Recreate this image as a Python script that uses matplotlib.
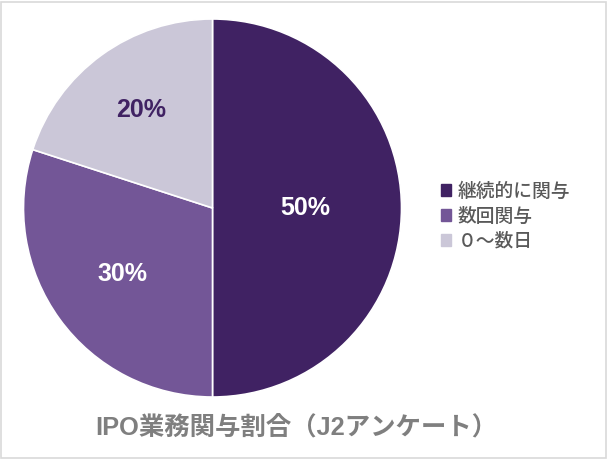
import numpy as np
import matplotlib
matplotlib.use('Agg')
import matplotlib.pyplot as plt
from matplotlib.patches import Rectangle

labels = ['継続的に関与', '数回関与', '０～数日']
shares = [50, 30, 20]
colors = ['#402263', '#735697', '#cbc7d8']
pct_colors = ['white', 'white', '#402263']
pct_dist = [0.49, 0.59, 0.64]
title = 'IPO業務関与割合（J2アンケート）'

plt.rcParams['font.family'] = ['Liberation Sans', 'Noto Sans CJK JP', 'DejaVu Sans']

W, H = 609, 461
fig = plt.figure(figsize=(W / 100, H / 100), dpi=100)

# pie centre (212.5, 208) px from top-left, radius 189 px
cx, cy, r = 212.5, 208, 189
ax = fig.add_axes([(cx - r) / W, (H - cy - r) / H, 2 * r / W, 2 * r / H])
wedges, _ = ax.pie(shares, colors=colors, startangle=90, counterclock=False,
                   radius=1, wedgeprops=dict(edgecolor='white', linewidth=1.2))
ax.set_xlim(-1, 1)
ax.set_ylim(-1, 1)
ax.set_aspect('auto')
ax.axis('off')

for w, val, c, d in zip(wedges, shares, pct_colors, pct_dist):
    ang = np.deg2rad((w.theta1 + w.theta2) / 2)
    ax.text(d * np.cos(ang), d * np.sin(ang), f'{val}%', ha='center', va='center',
            color=c, fontsize=18, fontweight='bold')

handles = [plt.Rectangle((0, 0), 1, 1, color=c) for c in colors]
fig.legend(handles, labels, loc='center left', bbox_to_anchor=(424 / W, 1 - 216 / H),
           frameon=False, labelcolor='#595959', handlelength=0.55,
           handleheight=0.55, handletextpad=0.35, labelspacing=0.32,
           prop={'family': ['Noto Sans CJK JP', 'DejaVu Sans'], 'size': 13.5,
                 'weight': 'medium'})

fig.text(296 / W, 1 - 427 / H, title, ha='center', va='center', color='#7f7f7f',
         fontsize=18.3, fontweight='bold')

fig.patches.append(Rectangle((1 / W, 3 / H), 605 / W, 456 / H, transform=fig.transFigure,
                             fill=False, edgecolor='#d9d9d9', linewidth=1.2))

fig.savefig('out.png', dpi=100)
